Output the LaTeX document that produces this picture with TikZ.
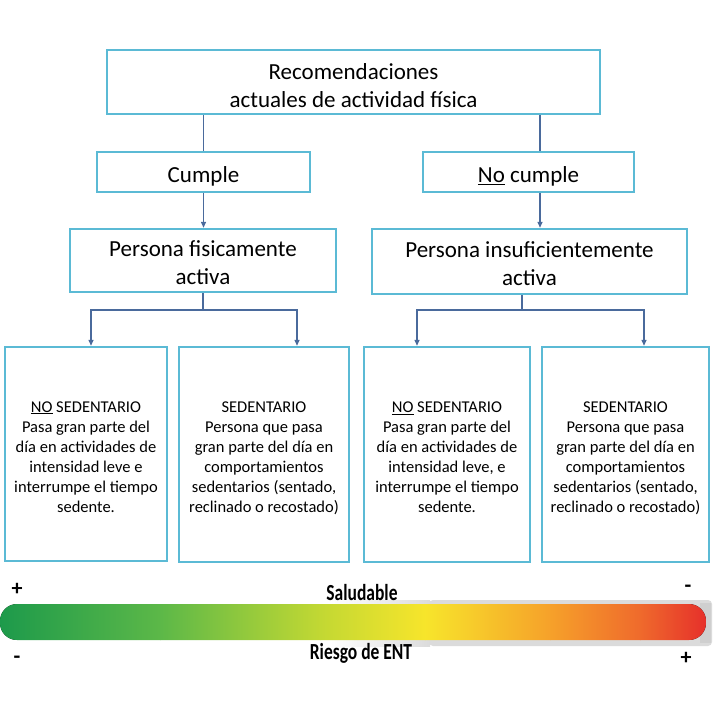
\documentclass[tikz,border=0pt]{standalone}
\usepackage{fontspec}
\setmainfont{Carlito}
\newfontfamily\condfont[FakeStretch=0.76]{Carlito}
\usetikzlibrary{arrows.meta}
\definecolor{boxblue}{HTML}{5BBAD5}
\definecolor{linkblue}{HTML}{4A6A9C}
\definecolor{g0}{HTML}{1D9A4B}
\definecolor{g1}{HTML}{5CB848}
\definecolor{g2}{HTML}{C2D833}
\definecolor{g3}{HTML}{F7E52B}
\definecolor{g4}{HTML}{F6A12A}
\definecolor{g5}{HTML}{EF6A2C}
\definecolor{g6}{HTML}{E6302B}
\newcommand\mylower[2]{\raisebox{-#1}[\height][\depth]{\begin{tabular}{@{}c@{}}#2\end{tabular}}}
\begin{document}
\begin{tikzpicture}[x=1pt,y=-1pt,
  box/.style={draw=boxblue,line width=2.4pt,inner sep=0pt,align=center},
  big/.style={font=\fontsize{23}{28}\selectfont},
  small/.style={font=\fontsize{16.5}{20}\selectfont},
  link/.style={draw=linkblue,line width=1.3pt},
  arr/.style={link,-{Triangle[length=6pt,width=5pt]}},
  barlbl/.style={font=\condfont\bfseries\fontsize{23}{23}\selectfont},
  sign/.style={font=\bfseries\fontsize{22}{22}\selectfont}
]
\useasboundingbox (0,0) rectangle (720,704);
\node[box,big,minimum width=493pt,minimum height=64pt] (top) at (353.5,82) {\mylower{6pt}{Recomendaciones\\actuales de actividad física}};
\node[box,big,minimum width=213pt,minimum height=40pt] (cumple) at (203.5,172) {\mylower{5pt}{Cumple}};
\node[box,big,minimum width=211pt,minimum height=40pt] (nocumple) at (528.5,172) {\mylower{5pt}{\underline{No} cumple}};
\node[box,big,minimum width=266pt,minimum height=63pt] (pfis) at (203,260.5) {\mylower{4pt}{Persona fisicamente\\activa}};
\node[box,big,minimum width=315pt,minimum height=65pt] (pins) at (529.5,261.5) {\mylower{4pt}{Persona insuficientemente\\activa}};
\node[box,small,minimum width=162pt,minimum height=214pt] (b1) at (86,454) {\mylower{4pt}{\underline{NO} SEDENTARIO\\Pasa gran parte del\\día en actividades de\\intensidad leve e\\interrumpe el tiempo\\sedente.}};
\node[box,small,minimum width=170pt,minimum height=215pt] (b2) at (264,454.5) {\mylower{4pt}{SEDENTARIO\\Persona que pasa\\gran parte del día en\\comportamientos\\sedentarios (sentado,\\reclinado o recostado)}};
\node[box,small,minimum width=166pt,minimum height=215pt] (b3) at (447,454.5) {\mylower{4pt}{\underline{NO} SEDENTARIO\\Pasa gran parte del\\día en actividades de\\intensidad leve, e\\interrumpe el tiempo\\sedente.}};
\node[box,small,minimum width=167pt,minimum height=215pt] (b4) at (625.5,454.5) {\mylower{4pt}{SEDENTARIO\\Persona que pasa\\gran parte del día en\\comportamientos\\sedentarios (sentado,\\reclinado o recostado)}};
% connectors
\draw[link] (cumple.north) -- (cumple.north |- top.south);
\draw[link] ([xshift=11.5pt]nocumple.north) -- ([xshift=11.5pt]nocumple.north |- top.south);
\draw[arr] (cumple.south) -- (cumple.south |- pfis.north);
\draw[arr] ([xshift=11.5pt]nocumple.south) -- ([xshift=11.5pt]nocumple.south |- pins.north);
\coordinate (jl) at (203,310);
\coordinate (jr) at (522,310);
\draw[link] (pfis.south) -- (jl);
\draw[arr] (jl) -| ([xshift=5pt]b1.north);
\draw[arr] (jl) -| ([xshift=33pt]b2.north);
\draw[link] (pins.south -| jr) -- (jr);
\draw[arr] (jr) -| ([xshift=-30pt]b3.north);
\draw[arr] (jr) -| ([xshift=18.5pt]b4.north);
% gray shadow behind bar
\fill[left color=white,right color=gray!28] (330,600) rectangle (430,646);
\fill[gray!28,rounded corners=4pt] (429,600) -- (712,600) -- (712,646) -- (429,646) -- cycle;
\fill[gray!38] (700,603) rectangle (711,643);
% gradient bar
\begin{scope}
\clip[rounded corners=17pt] (0,604) rectangle (706,640);
\fill[left color=g0,right color=g1] (0,604) rectangle (160.5,640);
\fill[left color=g1,right color=g2] (160,604) rectangle (320.5,640);
\fill[left color=g2,right color=g3] (320,604) rectangle (425.5,640);
\fill[left color=g3,right color=g4] (425,604) rectangle (550.5,640);
\fill[left color=g4,right color=g5] (550,604) rectangle (640.5,640);
\fill[left color=g5,right color=g6] (640,604) rectangle (706,640);
\end{scope}
\node[barlbl] (salud) at (362,593) {Saludable};
\node[barlbl] (riesgo) at (361,653) {Riesgo de ENT};
\node[sign] (p1) at (17,589) {+};
\node[sign] (m1) at (688,589) {-};
\node[sign] (m2) at (17,660) {-};
\node[sign] (p2) at (686,658) {+};
\end{tikzpicture}
\end{document}
